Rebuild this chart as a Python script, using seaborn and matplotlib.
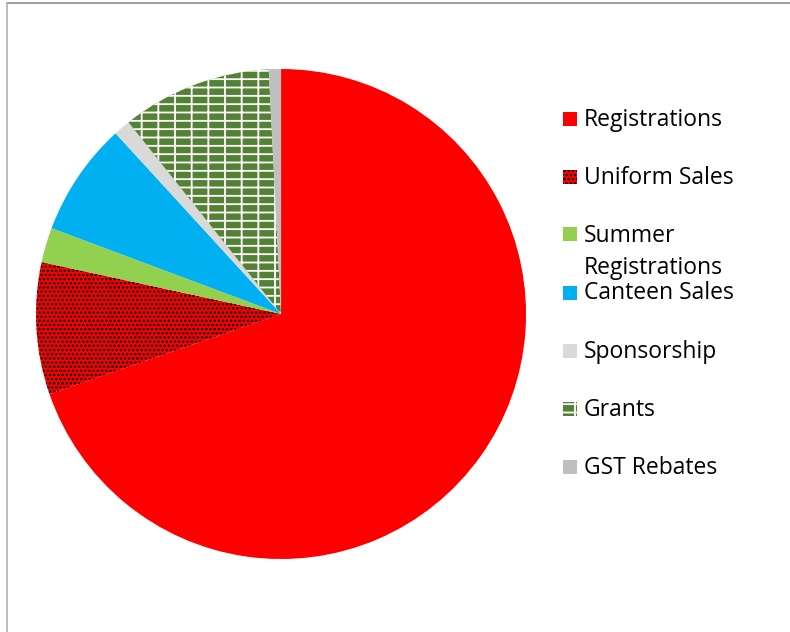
import matplotlib
matplotlib.use("Agg")
import matplotlib.pyplot as plt
from matplotlib.patches import Rectangle
from matplotlib.lines import Line2D
import seaborn as sns

# income shares (%)
categories = ["Registrations", "Uniform Sales", "Summer\nRegistrations", "Canteen Sales",
              "Sponsorship", "Grants", "GST Rebates"]
shares = [69.7, 8.7, 2.3, 7.5, 1.1, 9.9, 0.8]
colors = ["#FF0000", "#FF0000", "#92D050", "#00B0F0", "#D9D9D9", "#548235", "#BFBFBF"]
hatches = [None, "....", None, None, None, "--|", None]
hatch_cols = [None, "black", None, None, None, "white", None]

sns.set_style("white")
plt.rcParams["font.family"] = ["Open Sans", "DejaVu Sans"]
plt.rcParams["hatch.linewidth"] = 1.3

fig = plt.figure(figsize=(7.9, 6.32), dpi=100)
ax = fig.add_axes([0.0456, 0.1155, 0.6203, 0.7753])

wedges, _ = ax.pie(shares, colors=colors, startangle=90, counterclock=False,
                   wedgeprops=dict(linewidth=0))
for w, h, hc in zip(wedges, hatches, hatch_cols):
    if h:
        w.set_hatch(h)
        w.set_edgecolor(hc)
        w.set_linewidth(0)
ax.set_xlim(-1, 1)
ax.set_ylim(-1, 1)
ax.set_aspect("equal")
ax.axis("off")

# legend, drawn by hand so the wrapped label keeps the fixed row pitch
W, H = 790, 632
y0, pitch, line_h = 118.5, 58, 33
for i, (lab, col, h, hc) in enumerate(zip(categories, colors, hatches, hatch_cols)):
    yc = y0 + i * pitch
    r = Rectangle((563 / W, 1 - (yc + 7) / H), 14 / W, 14 / H, transform=fig.transFigure,
                  facecolor=col, edgecolor=hc if hc else col, linewidth=0, hatch=h)
    fig.add_artist(r)
    for k, part in enumerate(lab.split("\n")):
        fig.text(584 / W, 1 - (yc + 1 + k * line_h) / H, part, ha="left", va="center",
                 fontsize=16.5, color="black")

# chart frame (top and left edges visible)
fig.add_artist(Line2D([6.5 / W, 1], [1 - 3 / H, 1 - 3 / H], transform=fig.transFigure,
                      color="#8c8c8c", linewidth=1.2))
fig.add_artist(Line2D([6.5 / W, 6.5 / W], [0, 1 - 3 / H], transform=fig.transFigure,
                      color="#b0b0b0", linewidth=1.2))

fig.savefig("out.png", dpi=100)
plt.close()
